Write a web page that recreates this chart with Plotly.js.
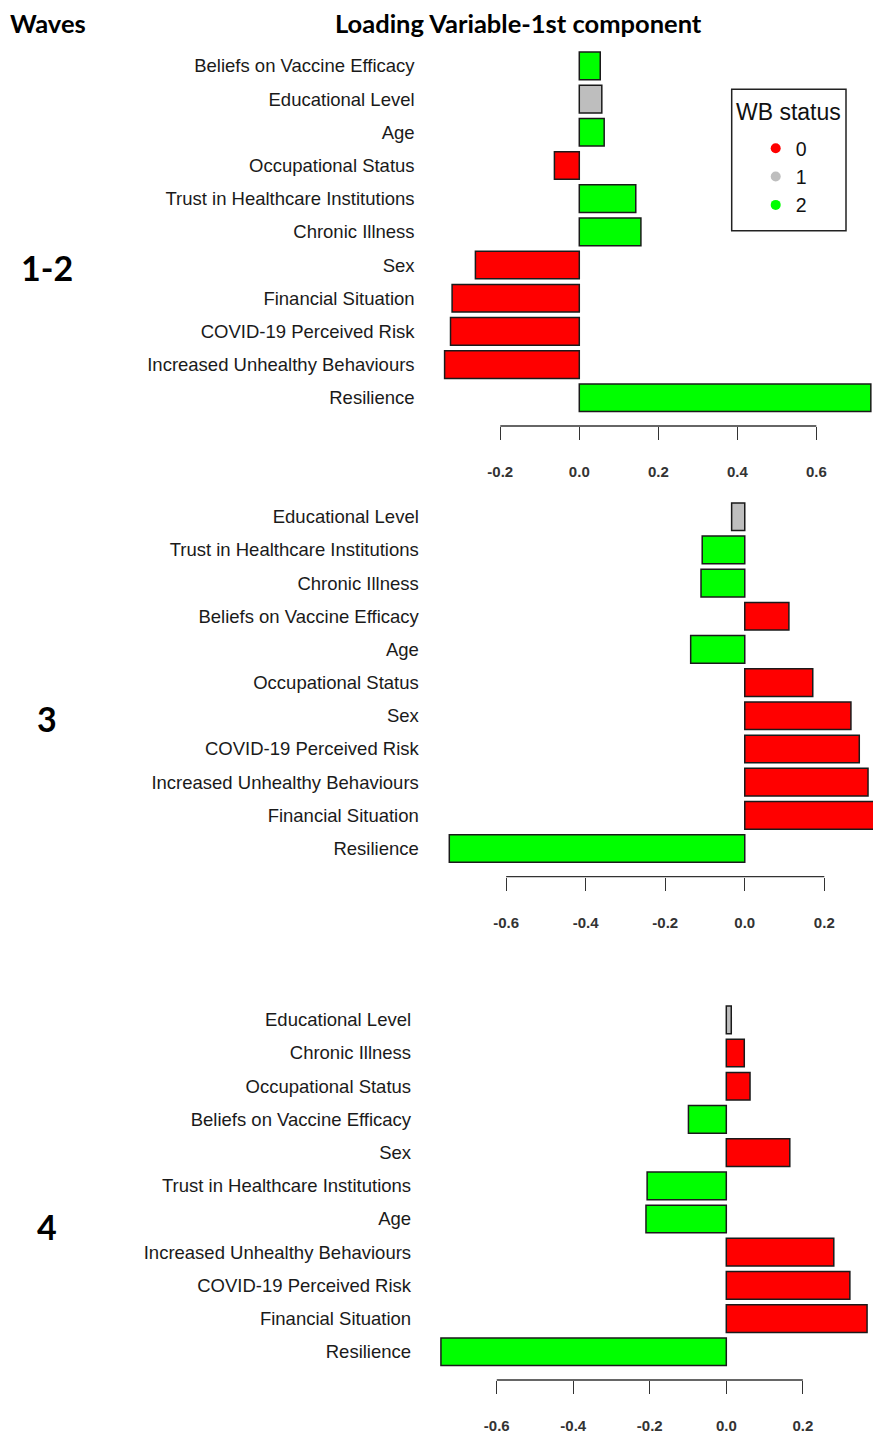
<!DOCTYPE html>
<html>
<head>
<meta charset="utf-8">
<script src="https://cdn.plot.ly/plotly-3.0.1.min.js"></script>
<style>html,body{margin:0;padding:0;background:#fff;}#chart{width:873px;height:1434px;}</style>
</head>
<body>
<div id="chart"></div>
<script>
// ---- data (top-to-bottom order as displayed) ----
const statusNames = ['0', '1', '2'];
const statusColors = ['#FF0000', '#BEBEBE', '#00FF00'];
const legendTitle = 'WB status';

const waveLabels = ['1-2', '3', '4'];

const cats12 = ['Beliefs on Vaccine Efficacy', 'Educational Level', 'Age', 'Occupational Status',
  'Trust in Healthcare Institutions', 'Chronic Illness', 'Sex', 'Financial Situation',
  'COVID-19 Perceived Risk', 'Increased Unhealthy Behaviours', 'Resilience'];
const vals12 = [0.053, 0.057, 0.063, -0.063, 0.143, 0.156, -0.263, -0.322, -0.326, -0.341, 0.738];
const status12 = [2, 1, 2, 0, 2, 2, 0, 0, 0, 0, 2];

const cats3 = ['Educational Level', 'Trust in Healthcare Institutions', 'Chronic Illness',
  'Beliefs on Vaccine Efficacy', 'Age', 'Occupational Status', 'Sex', 'COVID-19 Perceived Risk',
  'Increased Unhealthy Behaviours', 'Financial Situation', 'Resilience'];
const vals3 = [-0.033, -0.107, -0.110, 0.111, -0.136, 0.171, 0.267, 0.288, 0.310, 0.35, -0.743];
const status3 = [1, 2, 2, 0, 2, 0, 0, 0, 0, 0, 2];

const cats4 = ['Educational Level', 'Chronic Illness', 'Occupational Status', 'Beliefs on Vaccine Efficacy',
  'Sex', 'Trust in Healthcare Institutions', 'Age', 'Increased Unhealthy Behaviours',
  'COVID-19 Perceived Risk', 'Financial Situation', 'Resilience'];
const vals4 = [0.013, 0.047, 0.062, -0.099, 0.166, -0.207, -0.210, 0.281, 0.323, 0.368, -0.746];
const status4 = [1, 0, 0, 2, 0, 2, 2, 0, 0, 0, 2];

const ticks12 = [-0.2, 0, 0.2, 0.4, 0.6];
const tickText12 = ['-0.2', '0.0', '0.2', '0.4', '0.6'];
const ticks34 = [-0.6, -0.4, -0.2, 0, 0.2];
const tickText34 = ['-0.6', '-0.4', '-0.2', '0.0', '0.2'];

// ---- build ----
const W = 873, H = 1434;
const panels = [
  {cats: cats12, vals: vals12, status: status12, ticks: ticks12, tt: tickText12,
   xrange: [-0.384, 0.7435], xdom: [427.6 / W, 1], top: 37.7, bottom: 426},
  {cats: cats3, vals: vals3, status: status3, ticks: ticks34, tt: tickText34,
   xrange: [-0.787, 0.3225], xdom: [431.8 / W, 1], top: 488.5, bottom: 876.7},
  {cats: cats4, vals: vals4, status: status4, ticks: ticks34, tt: tickText34,
   xrange: [-0.790, 0.3835], xdom: [424.1 / W, 1], top: 991.6, bottom: 1380}
];
const waveY = [268, 719, 1226];

const sans = 'Liberation Sans, Arial, sans-serif';
const labelFont = {family: sans, size: 18.5, color: '#1a1a1a'};
const tickFont = {family: sans, size: 15, color: '#333', weight: 'bold'};

const traces = [];
const layout = {
  width: W, height: H,
  margin: {l: 0, r: 0, t: 0, b: 0},
  paper_bgcolor: '#fff', plot_bgcolor: '#fff',
  bargap: 1 / 6,
  showlegend: true,
  legend: {
    x: 731.7 / W, y: 1 - 129 / H, xanchor: 'left', yanchor: 'top',
    borderwidth: 0, bgcolor: 'rgba(0,0,0,0)',
    font: {family: sans, size: 19.5, color: '#111'},
    indentation: 24, itemwidth: 30, tracegroupgap: 0
  },
  shapes: [{
    type: 'rect', xref: 'paper', yref: 'paper',
    x0: 731.7 / W, x1: 846 / W, y0: 1 - 230.7 / H, y1: 1 - 89.3 / H,
    line: {color: '#222', width: 1.5}, fillcolor: 'rgba(0,0,0,0)'
  }],
  annotations: [{
    xref: 'paper', yref: 'paper', x: 788.8 / W, y: 1 - 112 / H,
    xanchor: 'center', yanchor: 'middle', showarrow: false,
    text: legendTitle, font: {family: sans, size: 23, color: '#111'}
  }]
};

panels.forEach((p, i) => {
  const xa = 'xaxis' + (i === 0 ? '' : i + 1);
  const ya = 'yaxis' + (i === 0 ? '' : i + 1);
  const xr = 'x' + (i === 0 ? '' : i + 1);
  const yr = 'y' + (i === 0 ? '' : i + 1);
  traces.push({
    type: 'bar', orientation: 'h',
    x: p.vals, y: p.cats,
    xaxis: xr, yaxis: yr,
    marker: {color: p.status.map(s => statusColors[s]), line: {color: '#1a1a1a', width: 1.5}},
    showlegend: false, hoverinfo: 'x+y'
  });
  layout[xa] = {
    domain: p.xdom, range: p.xrange, anchor: yr,
    tickmode: 'array', tickvals: p.ticks, ticktext: p.tt,
    ticks: 'outside', ticklen: 13, tickwidth: 1.3, tickcolor: '#333',
    ticklabelstandoff: 19,
    showline: false, showgrid: false, zeroline: false, tickfont: tickFont, fixedrange: true
  };
  const n = p.cats.length;
  layout[ya] = {
    domain: [1 - p.bottom / H, 1 - p.top / H], anchor: xr,
    type: 'category', categoryorder: 'array', categoryarray: p.cats,
    range: [n - 1 + 0.85, -0.85],
    showline: false, showgrid: false, zeroline: false, ticks: '',
    ticklabelstandoff: 12, tickfont: labelFont, fixedrange: true
  };
  // axis line from first to last tick (R style)
  layout.shapes.push({
    type: 'line', xref: xr, yref: yr + ' domain',
    x0: p.ticks[0], x1: p.ticks[p.ticks.length - 1], y0: 0, y1: 0,
    line: {color: '#333', width: 1.3}
  });
  layout.annotations.push({
    xref: 'paper', yref: 'paper', x: 47 / W, y: 1 - waveY[i] / H,
    xanchor: 'center', yanchor: 'middle', showarrow: false,
    text: '<b>' + waveLabels[i] + '</b>',
    font: {family: 'Lato, Liberation Sans, sans-serif', size: 34, color: '#000'}
  });
});

// legend entries
statusNames.forEach((s, k) => {
  traces.push({
    type: 'scatter', mode: 'markers', x: [null], y: [null], xaxis: 'x', yaxis: 'y',
    name: s, marker: {color: statusColors[k], size: 10, symbol: 'circle'},
    showlegend: true, hoverinfo: 'skip'
  });
});

layout.annotations.push({
  xref: 'paper', yref: 'paper', x: 8 / W, y: 1 - 23 / H, xanchor: 'left', yanchor: 'middle',
  showarrow: false, text: '<b>Waves</b>',
  font: {family: 'Lato, Liberation Sans, sans-serif', size: 25.5, color: '#000'}
});
layout.annotations.push({
  xref: 'paper', yref: 'paper', x: 518.5 / W, y: 1 - 23 / H, xanchor: 'center', yanchor: 'middle',
  showarrow: false, text: '<b>Loading Variable-1st component</b>',
  font: {family: 'Lato, Liberation Sans, sans-serif', size: 25.5, color: '#000'}
});

Plotly.newPlot('chart', traces, layout, {displayModeBar: false, staticPlot: true});
</script>
</body>
</html>
